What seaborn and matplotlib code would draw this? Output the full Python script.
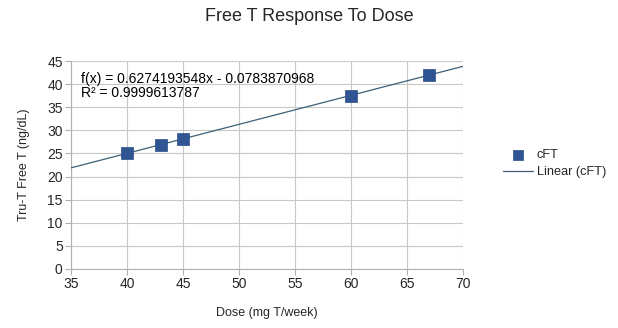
import numpy as np
import pandas as pd
import matplotlib
matplotlib.use("Agg")
import matplotlib.pyplot as plt
import seaborn as sns

dose = [40, 43, 45, 60, 67]
cft = [25.0, 26.9, 28.2, 37.5, 42.0]
x_ticks = [35, 40, 45, 50, 55, 60, 65, 70]
y_ticks = [0, 5, 10, 15, 20, 25, 30, 35, 40, 45]
eq_text = "f(x) = 0.6274193548x - 0.0783870968\nR² = 0.9999613787"

sns.set_theme(style="whitegrid")
plt.rcParams['font.family'] = ['Liberation Sans', 'DejaVu Sans']

fig = plt.figure(figsize=(6.18, 3.28), dpi=100)
ax = fig.add_axes([0.115, 0.180, 0.634, 0.634])

df = pd.DataFrame({"dose": dose, "cft": cft})
slope, intercept = np.polyfit(dose, cft, 1)
xs = np.array([x_ticks[0], x_ticks[-1]], dtype=float)
fit = pd.DataFrame({"dose": xs, "cft": slope * xs + intercept})

sns.lineplot(data=fit, x="dose", y="cft", ax=ax, color="#3d5f78", lw=0.9,
             label="Linear (cFT)", zorder=3)
sns.scatterplot(data=df, x="dose", y="cft", ax=ax, marker="s", s=70,
                color="#2f5593", edgecolor="#2a4d85", linewidth=0.5,
                label="cFT", zorder=4)

ax.set_xlim(x_ticks[0], x_ticks[-1])
ax.set_ylim(y_ticks[0], y_ticks[-1])
ax.set_xticks(x_ticks)
ax.set_yticks(y_ticks)
ax.grid(True, color="#c8c8c8", lw=0.8)
for s in ["top", "right"]:
    ax.spines[s].set_visible(False)
for s in ["left", "bottom"]:
    ax.spines[s].set_color("#b0b0b0")
    ax.spines[s].set_linewidth(0.8)
ax.tick_params(axis="both", length=4, color="#b0b0b0", width=0.8,
               labelsize=10, pad=2, direction="out")
ax.xaxis.set_tick_params(bottom=True)
ax.yaxis.set_tick_params(left=True)
ax.set_xlabel("Dose (mg T/week)", fontsize=9, labelpad=11)
ax.set_ylabel("Tru-T Free T (ng/dL)", fontsize=9, labelpad=12)
ax.text(35.9, 39.7, eq_text, fontsize=10, va="center", ha="left",
        linespacing=1.0, color="black")

fig.suptitle("Free T Response To Dose", fontsize=13, y=0.975)

h, l = ax.get_legend_handles_labels()
order = [l.index("cFT"), l.index("Linear (cFT)")]
ax.legend([h[i] for i in order], [l[i] for i in order],
          loc="center left", bbox_to_anchor=(1.074, 0.505), frameon=False,
          fontsize=9.2, handlelength=2.3, labelspacing=0.4, handletextpad=0.3,
          borderpad=0.4, markerscale=0.8)

fig.savefig("out.png", dpi=100)
